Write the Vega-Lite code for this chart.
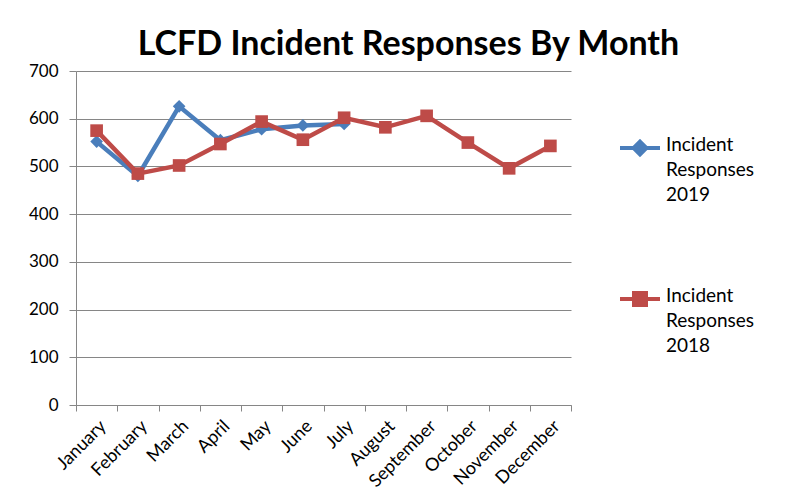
{
  "$schema": "https://vega.github.io/schema/vega-lite/v6.json",
  "width": 495,
  "height": 334,
  "autosize": {"type": "none"},
  "padding": {"left": 76, "top": 71, "right": 241, "bottom": 98},
  "background": "white",
  "title": {
    "text": "LCFD Incident Responses By Month",
    "font": "Lato",
    "fontSize": 34,
    "fontWeight": "bold",
    "color": "black",
    "anchor": "middle",
    "dx": 85,
    "offset": 0
  },
  "config": {
    "view": {"stroke": null},
    "font": "Lato"
  },
  "data": {
    "values": [
      {"month": "January", "series": "Incident Responses 2019", "year": "2019", "value": 552},
      {"month": "February", "series": "Incident Responses 2019", "year": "2019", "value": 480},
      {"month": "March", "series": "Incident Responses 2019", "year": "2019", "value": 626},
      {"month": "April", "series": "Incident Responses 2019", "year": "2019", "value": 555},
      {"month": "May", "series": "Incident Responses 2019", "year": "2019", "value": 578},
      {"month": "June", "series": "Incident Responses 2019", "year": "2019", "value": 586},
      {"month": "July", "series": "Incident Responses 2019", "year": "2019", "value": 589},
      {"month": "January", "series": "Incident Responses 2018", "year": "2018", "value": 575},
      {"month": "February", "series": "Incident Responses 2018", "year": "2018", "value": 485},
      {"month": "March", "series": "Incident Responses 2018", "year": "2018", "value": 502},
      {"month": "April", "series": "Incident Responses 2018", "year": "2018", "value": 547},
      {"month": "May", "series": "Incident Responses 2018", "year": "2018", "value": 594},
      {"month": "June", "series": "Incident Responses 2018", "year": "2018", "value": 556},
      {"month": "July", "series": "Incident Responses 2018", "year": "2018", "value": 602},
      {"month": "August", "series": "Incident Responses 2018", "year": "2018", "value": 582},
      {"month": "September", "series": "Incident Responses 2018", "year": "2018", "value": 606},
      {"month": "October", "series": "Incident Responses 2018", "year": "2018", "value": 550},
      {"month": "November", "series": "Incident Responses 2018", "year": "2018", "value": 496},
      {"month": "December", "series": "Incident Responses 2018", "year": "2018", "value": 543}
    ]
  },
  "encoding": {
    "x": {
      "field": "month",
      "type": "ordinal",
      "sort": ["January","February","March","April","May","June","July","August","September","October","November","December"],
      "bandPosition": 0.5,
      "scale": {"type": "band", "paddingInner": 0, "paddingOuter": 0},
      "axis": {
        "title": null,
        "labelAngle": -45,
        "labelFontSize": 18,
        "labelColor": "black",
        "labelFont": "Lato",
        "tickBand": "extent",
        "domainColor": "#868686",
        "tickColor": "#868686",
        "tickSize": 6,
        "labelPadding": 6,
        "labelOverlap": false,
        "grid": false
      }
    },
    "y": {
      "field": "value",
      "type": "quantitative",
      "scale": {"domain": [0, 700], "nice": false},
      "axis": {
        "title": null,
        "values": [0,100,200,300,400,500,600,700],
        "labelFontSize": 17,
        "labelColor": "black",
        "labelFont": "Lato",
        "domainColor": "#868686",
        "tickColor": "#868686",
        "gridColor": "#868686",
        "gridWidth": 1,
        "tickSize": 7,
        "labelPadding": 11
      }
    },
    "color": {
      "field": "series",
      "type": "nominal",
      "scale": {"domain": ["Incident Responses 2019", "Incident Responses 2018"], "range": ["#4A7EBB", "#BE4B48"]},
      "legend": {
        "title": null,
        "orient": "none",
        "legendX": 542,
        "legendY": 55,
        "symbolType": "M-1,0H1",
        "symbolSize": 1600,
        "symbolStrokeWidth": 4,
        "labelFontSize": 19,
        "labelFont": "Lato",
        "labelColor": "black",
        "labelOffset": 4,
        "labelExpr": "['Incident', 'Responses', slice(datum.label, -4)]",
        "rowPadding": 72,
        "encode": {
          "symbols": {
            "update": {
              "shape": {"signal": "datum.value == 'Incident Responses 2019' ? 'M-1,0H1M0,-0.32L0.32,0L0,0.32L-0.32,0Z' : 'M-1,0H1M-0.3,-0.3H0.3V0.3H-0.3Z'"},
              "fill": {"scale": "color", "field": "value"},
              "stroke": {"scale": "color", "field": "value"},
              "strokeWidth": {"value": 4},
              "opacity": {"value": 1}
            }
          },
          "labels": {
            "update": {
              "baseline": {"value": "top"},
              "dy": {"value": -12},
              "lineHeight": {"value": 25}
            }
          }
        }
      }
    }
  },
  "layer": [
    {
      "mark": {"type": "line", "strokeWidth": 4.5}
    },
    {
      "mark": {"type": "point", "filled": true, "opacity": 1},
      "encoding": {
        "shape": {
          "field": "year",
          "type": "nominal",
          "scale": {"domain": ["2019", "2018"], "range": ["diamond", "square"]},
          "legend": null
        },
        "size": {"value": 160}
      }
    }
  ]
}
